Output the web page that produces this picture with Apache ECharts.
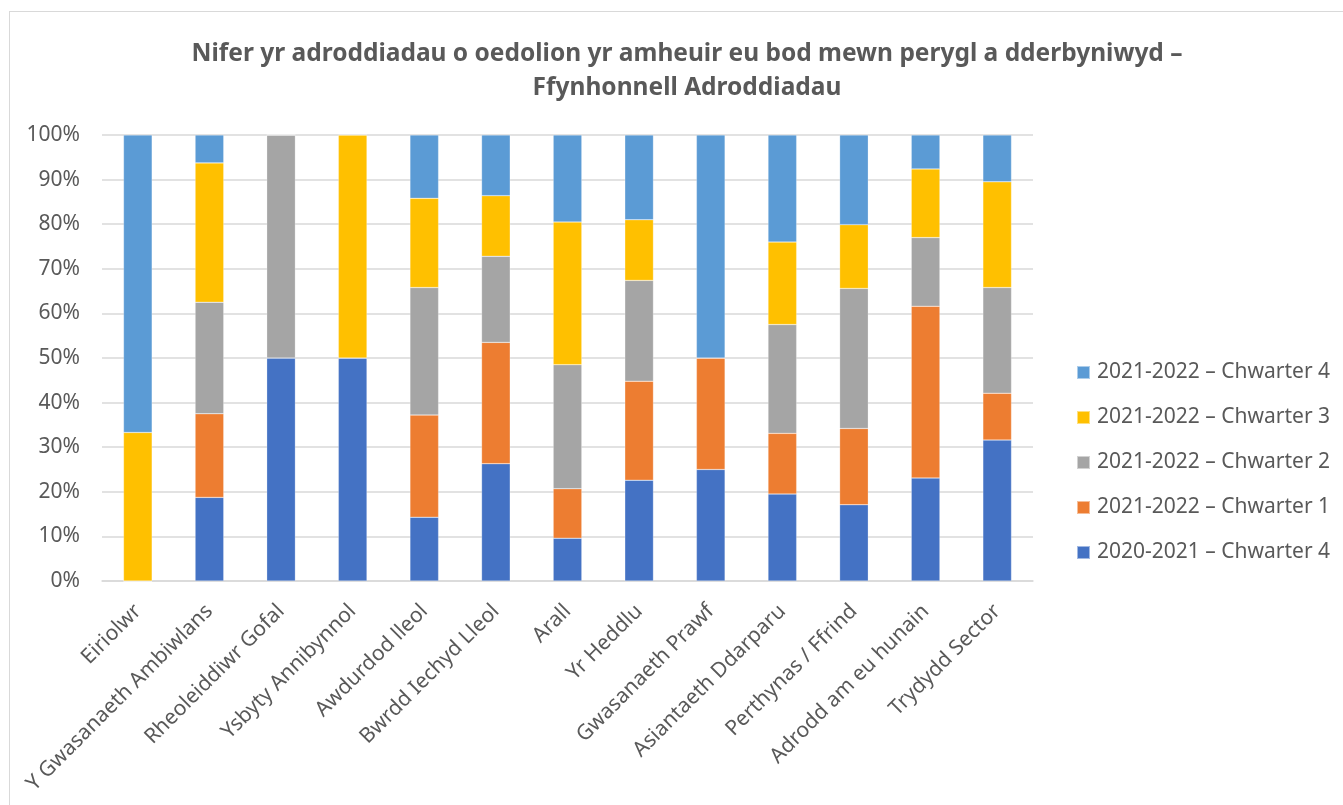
<!DOCTYPE html>
<html>
<head>
<meta charset="utf-8">
<script src="https://cdn.jsdelivr.net/npm/echarts@6/dist/echarts.min.js"></script>
<style>
html,body{margin:0;padding:0;background:#fff;}
#frame{position:absolute;left:9px;top:11px;width:1340px;height:800px;border:1px solid #d9d9d9;box-sizing:border-box;}
#chart{position:absolute;left:0;top:0;width:1343px;height:805px;}
</style>
</head>
<body>
<div id="frame"></div>
<div id="chart"></div>
<script>
const categories = ["Eiriolwr","Y Gwasanaeth Ambiwlans","Rheoleiddiwr Gofal","Ysbyty Annibynnol","Awdurdod lleol","Bwrdd Iechyd Lleol","Arall","Yr Heddlu","Gwasanaeth Prawf","Asiantaeth Ddarparu","Perthynas / Ffrind","Adrodd am eu hunain","Trydydd Sector"];
const seriesNames = ["2020-2021 – Chwarter 4","2021-2022 – Chwarter 1","2021-2022 – Chwarter 2","2021-2022 – Chwarter 3","2021-2022 – Chwarter 4"];
const q4_2021 = [0, 18.75, 50, 50, 14.3, 26.3, 9.6, 22.6, 25, 19.5, 17.1, 23.1, 31.6];
const q1_2022 = [0, 18.75, 0, 0, 22.9, 27.2, 11.1, 22.2, 25, 13.6, 17.1, 38.5, 10.5];
const q2_2022 = [0, 25, 50, 0, 28.6, 19.3, 27.8, 22.6, 0, 24.4, 31.4, 15.4, 23.7];
const q3_2022 = [33.3, 31.25, 0, 50, 20.0, 13.6, 32.0, 13.6, 0, 18.5, 14.3, 15.4, 23.7];
const q4_2022 = [66.7, 6.25, 0, 0, 14.2, 13.6, 19.5, 19.0, 50, 24.0, 20.1, 7.6, 10.5];
const yTicks = ["0%","10%","20%","30%","40%","50%","60%","70%","80%","90%","100%"];
const colors = ["#4472C4","#ED7D31","#A5A5A5","#FFC000","#5B9BD5"];
const seriesData = [q4_2021, q1_2022, q2_2022, q3_2022, q4_2022];
const FONT = "Noto Sans";
const chart = echarts.init(document.getElementById('chart'), null, {renderer:'canvas'});
chart.setOption({
  animation:false,
  title:{
    text:"Nifer yr adroddiadau o oedolion yr amheuir eu bod mewn perygl a dderbyniwyd –\nFfynhonnell Adroddiadau",
    left:682, top:32, textAlign:'center',
    textStyle:{fontFamily:FONT,fontSize:24.5,fontWeight:'bold',color:'#595959',lineHeight:34}
  },
  legend:{
    orient:'vertical', left:1071, top:357, itemGap:24, itemWidth:13, itemHeight:13,
    icon:'rect',
    data: seriesNames.slice().reverse(),
    textStyle:{fontFamily:FONT,fontSize:21,color:'#595959',padding:[0,0,0,2]}
  },
  grid:{left:102,right:310,top:135,bottom:224,containLabel:false},
  xAxis:{
    type:'category', data:categories,
    axisLine:{lineStyle:{color:'#d9d9d9',width:1.5}},
    axisTick:{show:false},
    axisLabel:{rotate:45,interval:0,margin:27,fontFamily:FONT,fontSize:21,color:'#595959'}
  },
  yAxis:{
    type:'value', min:0, max:100, interval:10,
    axisLine:{show:false}, axisTick:{show:false},
    splitLine:{lineStyle:{color:'#d9d9d9',width:1.5}},
    axisLabel:{margin:22,fontFamily:FONT,fontSize:21,color:'#595959',formatter:function(v){return yTicks[Math.round(v/10)];}}
  },
  series: seriesNames.map(function(n,i){
    return {name:n,type:'bar',stack:'total',barWidth:'40%',data:seriesData[i],
      itemStyle:{color:colors[i],borderColor:'rgba(255,255,255,0.5)',borderWidth:0.5}};
  })
});
</script>
</body>
</html>
